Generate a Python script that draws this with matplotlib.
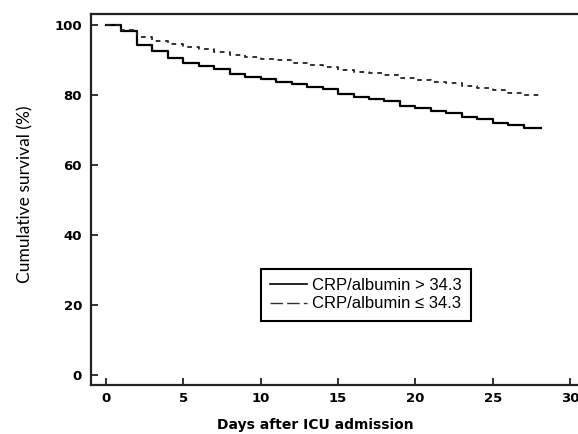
import matplotlib
matplotlib.use("Agg")
import matplotlib.pyplot as plt
from matplotlib.lines import Line2D

# Data (Kaplan-Meier style step curves)
days = list(range(0, 28))
end_day = 28.1
surv_high = [100, 98.3, 94.4, 92.6, 90.7, 89.2, 88.2, 87.4, 86.0, 85.0,
             84.5, 83.8, 83.0, 82.2, 81.6, 80.3, 79.5, 78.9, 78.2, 76.9,
             76.2, 75.4, 74.8, 73.6, 73.0, 72.1, 71.4, 70.5]
surv_low = [100, 98.6, 96.7, 95.3, 94.5, 93.6, 93.0, 92.3, 91.4, 90.8,
            90.3, 90.0, 89.0, 88.5, 88.1, 87.0, 86.5, 86.2, 85.7, 84.9,
            84.3, 83.8, 83.3, 82.5, 81.9, 81.3, 80.7, 80.0]
labels = ["CRP/albumin > 34.3", "CRP/albumin \u2264 34.3"]
xticks = [0, 5, 10, 15, 20, 25, 30]
yticks = [0, 20, 40, 60, 80, 100]

fig = plt.figure(figsize=(5.78, 4.34), dpi=100)
ax = fig.add_axes([91/578, 49/434, 487/578, 371/434])

x = days + [end_day]
ax.step(x, surv_high + [surv_high[-1]], where="post", color="black", lw=1.6)
ax.step(x, surv_low + [surv_low[-1]], where="post", color="#222222", lw=1.3,
        linestyle=(0, (2.6, 2.6)))

ax.set_xlim(-0.97, 30.51)
ax.set_ylim(-2.86, 103.14)
ax.set_xticks(xticks)
ax.set_yticks(yticks)
ax.tick_params(direction="in", length=5, width=1.3, color="#222222")
ax.tick_params(axis="x", pad=5)
ax.tick_params(axis="y", pad=6.5)
for lab in ax.get_xticklabels() + ax.get_yticklabels():
    lab.set_fontfamily("DejaVu Sans")
    lab.set_fontweight("bold")
    lab.set_fontsize(9.5)

for s in ["left", "bottom", "top"]:
    ax.spines[s].set_linewidth(1.6)
    ax.spines[s].set_color("#222222")
ax.spines["right"].set_visible(False)

ax.set_xlabel("Days after ICU admission", fontfamily="DejaVu Sans",
              fontweight="bold", fontsize=10)
ax.xaxis.set_label_coords((315 - 91) / 487, -(425 - 385) / 371, transform=ax.transAxes)
ax.xaxis.label.set_verticalalignment("center")
ax.set_ylabel("Cumulative survival (%)", fontfamily="Lato", fontsize=12.5)
ax.yaxis.set_label_coords(-(91 - 25) / 487, (385 - 194) / 371, transform=ax.transAxes)
ax.yaxis.label.set_verticalalignment("center")

handles = [Line2D([], [], color="black", lw=1.2),
           Line2D([], [], color="#333333", lw=1.0, dashes=(9, 3))]
leg = ax.legend(handles, labels, loc="upper left",
                bbox_to_anchor=((261 - 91) / 487, (385 - 269) / 371),
                borderaxespad=0, fancybox=False, framealpha=1,
                edgecolor="black", handlelength=2.2, handletextpad=0.3,
                labelspacing=0.2, borderpad=0.55,
                prop={"family": "Liberation Sans", "size": 12})
leg.get_frame().set_linewidth(1.5)

fig.savefig("out.png", dpi=100)
